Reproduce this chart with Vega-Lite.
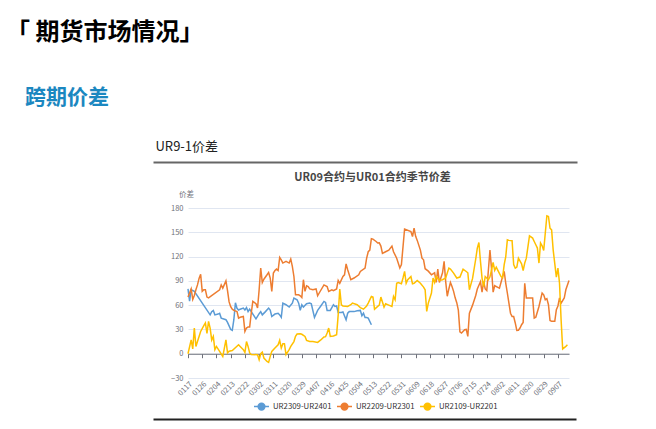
{
  "$schema": "https://vega.github.io/schema/vega-lite/v6.json",
  "autosize": {"type": "none"},
  "width": 381,
  "height": 170,
  "padding": {"left": 188, "top": 208, "right": 87, "bottom": 51},
  "background": "white",
  "config": {"font": "Noto Sans CJK SC", "view": {"stroke": null}},
  "title": {
    "text": "「 期货市场情况」",
    "subtitle": "\u200b\u00a0\u00a0\u00a0\u00a0跨期价差",
    "anchor": "start",
    "frame": "group",
    "dx": -182,
    "offset": 32,
    "fontSize": 24,
    "fontWeight": "bold",
    "color": "#000000",
    "subtitleFontSize": 21,
    "subtitleFontWeight": "bold",
    "subtitleColor": "#1B87C0",
    "subtitlePadding": 42
  },
  "data": {
    "values": [
      {"s":"UR2309-UR2401","d":"2020-01-17","v":80},{"s":"UR2309-UR2401","d":"2020-01-18","v":65},{"s":"UR2309-UR2401","d":"2020-01-19","v":79},{"s":"UR2309-UR2401","d":"2020-01-21","v":77},{"s":"UR2309-UR2401","d":"2020-01-31","v":48},{"s":"UR2309-UR2401","d":"2020-02-01","v":52},{"s":"UR2309-UR2401","d":"2020-02-02","v":53.5},{"s":"UR2309-UR2401","d":"2020-02-03","v":48},{"s":"UR2309-UR2401","d":"2020-02-05","v":49},{"s":"UR2309-UR2401","d":"2020-02-06","v":50},{"s":"UR2309-UR2401","d":"2020-02-07","v":44},{"s":"UR2309-UR2401","d":"2020-02-10","v":42},{"s":"UR2309-UR2401","d":"2020-02-11","v":38.6},{"s":"UR2309-UR2401","d":"2020-02-13","v":30},{"s":"UR2309-UR2401","d":"2020-02-14","v":29},{"s":"UR2309-UR2401","d":"2020-02-15","v":42},{"s":"UR2309-UR2401","d":"2020-02-16","v":63},{"s":"UR2309-UR2401","d":"2020-02-17","v":56},{"s":"UR2309-UR2401","d":"2020-02-18","v":54},{"s":"UR2309-UR2401","d":"2020-02-19","v":55},{"s":"UR2309-UR2401","d":"2020-02-21","v":56.4},{"s":"UR2309-UR2401","d":"2020-02-22","v":54},{"s":"UR2309-UR2401","d":"2020-02-23","v":57},{"s":"UR2309-UR2401","d":"2020-02-24","v":52},{"s":"UR2309-UR2401","d":"2020-02-25","v":55},{"s":"UR2309-UR2401","d":"2020-02-26","v":52},{"s":"UR2309-UR2401","d":"2020-02-29","v":43},{"s":"UR2309-UR2401","d":"2020-03-02","v":49.4},{"s":"UR2309-UR2401","d":"2020-03-03","v":52},{"s":"UR2309-UR2401","d":"2020-03-04","v":48},{"s":"UR2309-UR2401","d":"2020-03-06","v":52},{"s":"UR2309-UR2401","d":"2020-03-08","v":56.4},{"s":"UR2309-UR2401","d":"2020-03-09","v":54},{"s":"UR2309-UR2401","d":"2020-03-10","v":46},{"s":"UR2309-UR2401","d":"2020-03-12","v":49},{"s":"UR2309-UR2401","d":"2020-03-14","v":50},{"s":"UR2309-UR2401","d":"2020-03-15","v":48},{"s":"UR2309-UR2401","d":"2020-03-16","v":45},{"s":"UR2309-UR2401","d":"2020-03-17","v":62.5},{"s":"UR2309-UR2401","d":"2020-03-19","v":60.5},{"s":"UR2309-UR2401","d":"2020-03-21","v":57.6},{"s":"UR2309-UR2401","d":"2020-03-23","v":62.5},{"s":"UR2309-UR2401","d":"2020-03-24","v":68.8},{"s":"UR2309-UR2401","d":"2020-03-26","v":66.7},{"s":"UR2309-UR2401","d":"2020-03-27","v":62.5},{"s":"UR2309-UR2401","d":"2020-03-28","v":53.5},{"s":"UR2309-UR2401","d":"2020-03-29","v":60.5},{"s":"UR2309-UR2401","d":"2020-03-30","v":57.6},{"s":"UR2309-UR2401","d":"2020-04-01","v":61.7},{"s":"UR2309-UR2401","d":"2020-04-03","v":62.5},{"s":"UR2309-UR2401","d":"2020-04-04","v":61.7},{"s":"UR2309-UR2401","d":"2020-04-06","v":44.8},{"s":"UR2309-UR2401","d":"2020-04-08","v":53.5},{"s":"UR2309-UR2401","d":"2020-04-10","v":59},{"s":"UR2309-UR2401","d":"2020-04-12","v":64.6},{"s":"UR2309-UR2401","d":"2020-04-13","v":63.4},{"s":"UR2309-UR2401","d":"2020-04-14","v":53.5},{"s":"UR2309-UR2401","d":"2020-04-16","v":53.5},{"s":"UR2309-UR2401","d":"2020-04-18","v":60.5},{"s":"UR2309-UR2401","d":"2020-04-19","v":58.4},{"s":"UR2309-UR2401","d":"2020-04-20","v":59},{"s":"UR2309-UR2401","d":"2020-04-21","v":51},{"s":"UR2309-UR2401","d":"2020-04-23","v":51},{"s":"UR2309-UR2401","d":"2020-04-24","v":51.6},{"s":"UR2309-UR2401","d":"2020-04-26","v":42},{"s":"UR2309-UR2401","d":"2020-04-27","v":50},{"s":"UR2309-UR2401","d":"2020-04-28","v":52},{"s":"UR2309-UR2401","d":"2020-05-01","v":52},{"s":"UR2309-UR2401","d":"2020-05-03","v":53},{"s":"UR2309-UR2401","d":"2020-05-05","v":53.5},{"s":"UR2309-UR2401","d":"2020-05-06","v":47},{"s":"UR2309-UR2401","d":"2020-05-07","v":50},{"s":"UR2309-UR2401","d":"2020-05-08","v":44.8},{"s":"UR2309-UR2401","d":"2020-05-09","v":44.8},{"s":"UR2309-UR2401","d":"2020-05-10","v":44},{"s":"UR2309-UR2401","d":"2020-05-12","v":35.8},
      {"s":"UR2209-UR2301","d":"2020-01-17","v":70},{"s":"UR2209-UR2301","d":"2020-01-19","v":80},{"s":"UR2209-UR2301","d":"2020-01-20","v":67},{"s":"UR2209-UR2301","d":"2020-01-21","v":72},{"s":"UR2209-UR2301","d":"2020-01-22","v":79},{"s":"UR2209-UR2301","d":"2020-01-23","v":85},{"s":"UR2209-UR2301","d":"2020-01-24","v":93},{"s":"UR2209-UR2301","d":"2020-01-25","v":98},{"s":"UR2209-UR2301","d":"2020-01-26","v":77},{"s":"UR2209-UR2301","d":"2020-01-27","v":79},{"s":"UR2209-UR2301","d":"2020-01-28","v":79},{"s":"UR2209-UR2301","d":"2020-01-29","v":70},{"s":"UR2209-UR2301","d":"2020-01-30","v":69},{"s":"UR2209-UR2301","d":"2020-02-06","v":79},{"s":"UR2209-UR2301","d":"2020-02-07","v":85},{"s":"UR2209-UR2301","d":"2020-02-08","v":81},{"s":"UR2209-UR2301","d":"2020-02-10","v":90},{"s":"UR2209-UR2301","d":"2020-02-11","v":78},{"s":"UR2209-UR2301","d":"2020-02-12","v":64},{"s":"UR2209-UR2301","d":"2020-02-13","v":58},{"s":"UR2209-UR2301","d":"2020-02-14","v":55},{"s":"UR2209-UR2301","d":"2020-02-15","v":53.5},{"s":"UR2209-UR2301","d":"2020-02-17","v":52},{"s":"UR2209-UR2301","d":"2020-02-18","v":44},{"s":"UR2209-UR2301","d":"2020-02-19","v":45},{"s":"UR2209-UR2301","d":"2020-02-21","v":46},{"s":"UR2209-UR2301","d":"2020-02-22","v":27.5},{"s":"UR2209-UR2301","d":"2020-02-23","v":31.7},{"s":"UR2209-UR2301","d":"2020-02-24","v":33},{"s":"UR2209-UR2301","d":"2020-02-25","v":33},{"s":"UR2209-UR2301","d":"2020-02-26","v":50},{"s":"UR2209-UR2301","d":"2020-02-27","v":64.6},{"s":"UR2209-UR2301","d":"2020-02-29","v":61.7},{"s":"UR2209-UR2301","d":"2020-03-01","v":56.4},{"s":"UR2209-UR2301","d":"2020-03-02","v":79},{"s":"UR2209-UR2301","d":"2020-03-03","v":105.8},{"s":"UR2209-UR2301","d":"2020-03-04","v":88},{"s":"UR2209-UR2301","d":"2020-03-05","v":92},{"s":"UR2209-UR2301","d":"2020-03-07","v":97.5},{"s":"UR2209-UR2301","d":"2020-03-08","v":100.4},{"s":"UR2209-UR2301","d":"2020-03-09","v":93.5},{"s":"UR2209-UR2301","d":"2020-03-10","v":77},{"s":"UR2209-UR2301","d":"2020-03-11","v":99.6},{"s":"UR2209-UR2301","d":"2020-03-12","v":102.8},{"s":"UR2209-UR2301","d":"2020-03-13","v":104.5},{"s":"UR2209-UR2301","d":"2020-03-14","v":102.8},{"s":"UR2209-UR2301","d":"2020-03-15","v":119},{"s":"UR2209-UR2301","d":"2020-03-16","v":116},{"s":"UR2209-UR2301","d":"2020-03-17","v":112},{"s":"UR2209-UR2301","d":"2020-03-19","v":114},{"s":"UR2209-UR2301","d":"2020-03-21","v":112},{"s":"UR2209-UR2301","d":"2020-03-22","v":117},{"s":"UR2209-UR2301","d":"2020-03-23","v":107.8},{"s":"UR2209-UR2301","d":"2020-03-24","v":95.4},{"s":"UR2209-UR2301","d":"2020-03-25","v":72.8},{"s":"UR2209-UR2301","d":"2020-03-27","v":72.8},{"s":"UR2209-UR2301","d":"2020-03-28","v":71.6},{"s":"UR2209-UR2301","d":"2020-03-29","v":69.5},{"s":"UR2209-UR2301","d":"2020-03-30","v":91.4},{"s":"UR2209-UR2301","d":"2020-03-31","v":77},{"s":"UR2209-UR2301","d":"2020-04-01","v":84},{"s":"UR2209-UR2301","d":"2020-04-02","v":83},{"s":"UR2209-UR2301","d":"2020-04-03","v":80},{"s":"UR2209-UR2301","d":"2020-04-05","v":79},{"s":"UR2209-UR2301","d":"2020-04-07","v":80},{"s":"UR2209-UR2301","d":"2020-04-08","v":71.6},{"s":"UR2209-UR2301","d":"2020-04-09","v":75},{"s":"UR2209-UR2301","d":"2020-04-12","v":85},{"s":"UR2209-UR2301","d":"2020-04-14","v":83},{"s":"UR2209-UR2301","d":"2020-04-15","v":77},{"s":"UR2209-UR2301","d":"2020-04-17","v":79},{"s":"UR2209-UR2301","d":"2020-04-18","v":78},{"s":"UR2209-UR2301","d":"2020-04-20","v":80},{"s":"UR2209-UR2301","d":"2020-04-21","v":90.5},{"s":"UR2209-UR2301","d":"2020-04-22","v":87},{"s":"UR2209-UR2301","d":"2020-04-24","v":95.4},{"s":"UR2209-UR2301","d":"2020-04-25","v":97.5},{"s":"UR2209-UR2301","d":"2020-04-26","v":111},{"s":"UR2209-UR2301","d":"2020-04-27","v":103.7},{"s":"UR2209-UR2301","d":"2020-04-29","v":91.4},{"s":"UR2209-UR2301","d":"2020-05-01","v":93.5},{"s":"UR2209-UR2301","d":"2020-05-04","v":97.5},{"s":"UR2209-UR2301","d":"2020-05-05","v":101.6},{"s":"UR2209-UR2301","d":"2020-05-08","v":105.8},{"s":"UR2209-UR2301","d":"2020-05-09","v":118},{"s":"UR2209-UR2301","d":"2020-05-10","v":126},{"s":"UR2209-UR2301","d":"2020-05-11","v":128},{"s":"UR2209-UR2301","d":"2020-05-12","v":142},{"s":"UR2209-UR2301","d":"2020-05-13","v":141.6},{"s":"UR2209-UR2301","d":"2020-05-15","v":138.6},{"s":"UR2209-UR2301","d":"2020-05-16","v":136.7},{"s":"UR2209-UR2301","d":"2020-05-17","v":137},{"s":"UR2209-UR2301","d":"2020-05-18","v":133},{"s":"UR2209-UR2301","d":"2020-05-19","v":124},{"s":"UR2209-UR2301","d":"2020-05-21","v":126},{"s":"UR2209-UR2301","d":"2020-05-23","v":128},{"s":"UR2209-UR2301","d":"2020-05-25","v":133},{"s":"UR2209-UR2301","d":"2020-05-26","v":126},{"s":"UR2209-UR2301","d":"2020-05-28","v":118},{"s":"UR2209-UR2301","d":"2020-05-30","v":105.8},{"s":"UR2209-UR2301","d":"2020-05-31","v":110},{"s":"UR2209-UR2301","d":"2020-06-02","v":154},{"s":"UR2209-UR2301","d":"2020-06-06","v":151},{"s":"UR2209-UR2301","d":"2020-06-07","v":144.8},{"s":"UR2209-UR2301","d":"2020-06-08","v":155},{"s":"UR2209-UR2301","d":"2020-06-09","v":145},{"s":"UR2209-UR2301","d":"2020-06-10","v":140},{"s":"UR2209-UR2301","d":"2020-06-12","v":128},{"s":"UR2209-UR2301","d":"2020-06-13","v":118},{"s":"UR2209-UR2301","d":"2020-06-14","v":116},{"s":"UR2209-UR2301","d":"2020-06-15","v":105},{"s":"UR2209-UR2301","d":"2020-06-17","v":102},{"s":"UR2209-UR2301","d":"2020-06-19","v":97.5},{"s":"UR2209-UR2301","d":"2020-06-21","v":100},{"s":"UR2209-UR2301","d":"2020-06-22","v":88},{"s":"UR2209-UR2301","d":"2020-06-23","v":104.5},{"s":"UR2209-UR2301","d":"2020-06-24","v":88},{"s":"UR2209-UR2301","d":"2020-06-26","v":100},{"s":"UR2209-UR2301","d":"2020-06-27","v":114},{"s":"UR2209-UR2301","d":"2020-06-28","v":89},{"s":"UR2209-UR2301","d":"2020-06-29","v":71},{"s":"UR2209-UR2301","d":"2020-06-30","v":80},{"s":"UR2209-UR2301","d":"2020-07-01","v":88},{"s":"UR2209-UR2301","d":"2020-07-02","v":83},{"s":"UR2209-UR2301","d":"2020-07-03","v":77},{"s":"UR2209-UR2301","d":"2020-07-04","v":69},{"s":"UR2209-UR2301","d":"2020-07-05","v":63},{"s":"UR2209-UR2301","d":"2020-07-06","v":54},{"s":"UR2209-UR2301","d":"2020-07-07","v":27},{"s":"UR2209-UR2301","d":"2020-07-08","v":25.5},{"s":"UR2209-UR2301","d":"2020-07-10","v":29.6},{"s":"UR2209-UR2301","d":"2020-07-11","v":30},{"s":"UR2209-UR2301","d":"2020-07-12","v":21.4},{"s":"UR2209-UR2301","d":"2020-07-13","v":50},{"s":"UR2209-UR2301","d":"2020-07-15","v":60},{"s":"UR2209-UR2301","d":"2020-07-17","v":72},{"s":"UR2209-UR2301","d":"2020-07-18","v":80},{"s":"UR2209-UR2301","d":"2020-07-20","v":89},{"s":"UR2209-UR2301","d":"2020-07-21","v":76},{"s":"UR2209-UR2301","d":"2020-07-22","v":89},{"s":"UR2209-UR2301","d":"2020-07-23","v":80},{"s":"UR2209-UR2301","d":"2020-07-24","v":78},{"s":"UR2209-UR2301","d":"2020-07-26","v":128},{"s":"UR2209-UR2301","d":"2020-07-27","v":105},{"s":"UR2209-UR2301","d":"2020-07-28","v":76},{"s":"UR2209-UR2301","d":"2020-07-29","v":84},{"s":"UR2209-UR2301","d":"2020-07-31","v":82},{"s":"UR2209-UR2301","d":"2020-08-01","v":81},{"s":"UR2209-UR2301","d":"2020-08-03","v":95.4},{"s":"UR2209-UR2301","d":"2020-08-04","v":101.6},{"s":"UR2209-UR2301","d":"2020-08-05","v":87},{"s":"UR2209-UR2301","d":"2020-08-06","v":75},{"s":"UR2209-UR2301","d":"2020-08-07","v":62.5},{"s":"UR2209-UR2301","d":"2020-08-08","v":50},{"s":"UR2209-UR2301","d":"2020-08-09","v":46},{"s":"UR2209-UR2301","d":"2020-08-10","v":46},{"s":"UR2209-UR2301","d":"2020-08-11","v":38},{"s":"UR2209-UR2301","d":"2020-08-12","v":28.8},{"s":"UR2209-UR2301","d":"2020-08-13","v":29},{"s":"UR2209-UR2301","d":"2020-08-14","v":31.7},{"s":"UR2209-UR2301","d":"2020-08-15","v":35.8},{"s":"UR2209-UR2301","d":"2020-08-16","v":38.6},{"s":"UR2209-UR2301","d":"2020-08-17","v":87},{"s":"UR2209-UR2301","d":"2020-08-18","v":68.8},{"s":"UR2209-UR2301","d":"2020-08-20","v":68.8},{"s":"UR2209-UR2301","d":"2020-08-22","v":68.8},{"s":"UR2209-UR2301","d":"2020-08-23","v":44},{"s":"UR2209-UR2301","d":"2020-08-24","v":45},{"s":"UR2209-UR2301","d":"2020-08-26","v":58.4},{"s":"UR2209-UR2301","d":"2020-08-27","v":66.7},{"s":"UR2209-UR2301","d":"2020-08-28","v":75},{"s":"UR2209-UR2301","d":"2020-08-29","v":72.8},{"s":"UR2209-UR2301","d":"2020-08-30","v":66.7},{"s":"UR2209-UR2301","d":"2020-08-31","v":68},{"s":"UR2209-UR2301","d":"2020-09-01","v":60.5},{"s":"UR2209-UR2301","d":"2020-09-02","v":41},{"s":"UR2209-UR2301","d":"2020-09-03","v":40},{"s":"UR2209-UR2301","d":"2020-09-05","v":40},{"s":"UR2209-UR2301","d":"2020-09-06","v":54.3},{"s":"UR2209-UR2301","d":"2020-09-07","v":59},{"s":"UR2209-UR2301","d":"2020-09-08","v":68.8},{"s":"UR2209-UR2301","d":"2020-09-09","v":62.5},{"s":"UR2209-UR2301","d":"2020-09-11","v":68.8},{"s":"UR2209-UR2301","d":"2020-09-12","v":79},{"s":"UR2209-UR2301","d":"2020-09-14","v":90.5},
      {"s":"UR2109-UR2201","d":"2020-01-17","v":0},{"s":"UR2109-UR2201","d":"2020-01-19","v":17},{"s":"UR2109-UR2201","d":"2020-01-20","v":6},{"s":"UR2109-UR2201","d":"2020-01-21","v":31.7},{"s":"UR2109-UR2201","d":"2020-01-22","v":9},{"s":"UR2109-UR2201","d":"2020-01-23","v":15},{"s":"UR2109-UR2201","d":"2020-01-25","v":27.5},{"s":"UR2109-UR2201","d":"2020-01-27","v":34.6},{"s":"UR2109-UR2201","d":"2020-01-28","v":38},{"s":"UR2109-UR2201","d":"2020-01-29","v":25},{"s":"UR2109-UR2201","d":"2020-01-30","v":40},{"s":"UR2109-UR2201","d":"2020-01-31","v":31.7},{"s":"UR2109-UR2201","d":"2020-02-01","v":17},{"s":"UR2109-UR2201","d":"2020-02-02","v":21.4},{"s":"UR2109-UR2201","d":"2020-02-03","v":5},{"s":"UR2109-UR2201","d":"2020-02-04","v":9},{"s":"UR2109-UR2201","d":"2020-02-06","v":3},{"s":"UR2109-UR2201","d":"2020-02-08","v":-3.3},{"s":"UR2109-UR2201","d":"2020-02-09","v":7},{"s":"UR2109-UR2201","d":"2020-02-10","v":17},{"s":"UR2109-UR2201","d":"2020-02-11","v":1},{"s":"UR2109-UR2201","d":"2020-02-12","v":3},{"s":"UR2109-UR2201","d":"2020-02-14","v":4},{"s":"UR2109-UR2201","d":"2020-02-18","v":11},{"s":"UR2109-UR2201","d":"2020-02-19","v":9},{"s":"UR2109-UR2201","d":"2020-02-21","v":5},{"s":"UR2109-UR2201","d":"2020-02-22","v":1.6},{"s":"UR2109-UR2201","d":"2020-02-23","v":15},{"s":"UR2109-UR2201","d":"2020-02-24","v":9},{"s":"UR2109-UR2201","d":"2020-02-25","v":1},{"s":"UR2109-UR2201","d":"2020-02-26","v":-1},{"s":"UR2109-UR2201","d":"2020-03-01","v":-1.2},{"s":"UR2109-UR2201","d":"2020-03-02","v":-7.4},{"s":"UR2109-UR2201","d":"2020-03-03","v":0},{"s":"UR2109-UR2201","d":"2020-03-04","v":2},{"s":"UR2109-UR2201","d":"2020-03-05","v":-5.3},{"s":"UR2109-UR2201","d":"2020-03-07","v":-9.5},{"s":"UR2109-UR2201","d":"2020-03-08","v":-10.7},{"s":"UR2109-UR2201","d":"2020-03-09","v":-3.3},{"s":"UR2109-UR2201","d":"2020-03-10","v":2.9},{"s":"UR2109-UR2201","d":"2020-03-12","v":7},{"s":"UR2109-UR2201","d":"2020-03-14","v":11},{"s":"UR2109-UR2201","d":"2020-03-15","v":16.5},{"s":"UR2109-UR2201","d":"2020-03-16","v":7},{"s":"UR2109-UR2201","d":"2020-03-17","v":12.3},{"s":"UR2109-UR2201","d":"2020-03-18","v":12.3},{"s":"UR2109-UR2201","d":"2020-03-19","v":-1.2},{"s":"UR2109-UR2201","d":"2020-03-21","v":5},{"s":"UR2109-UR2201","d":"2020-03-22","v":9},{"s":"UR2109-UR2201","d":"2020-03-24","v":15},{"s":"UR2109-UR2201","d":"2020-03-25","v":21.4},{"s":"UR2109-UR2201","d":"2020-03-26","v":24.3},{"s":"UR2109-UR2201","d":"2020-03-28","v":24.7},{"s":"UR2109-UR2201","d":"2020-03-29","v":24},{"s":"UR2109-UR2201","d":"2020-03-31","v":21.4},{"s":"UR2109-UR2201","d":"2020-04-01","v":16.5},{"s":"UR2109-UR2201","d":"2020-04-03","v":15},{"s":"UR2109-UR2201","d":"2020-04-05","v":15},{"s":"UR2109-UR2201","d":"2020-04-08","v":14},{"s":"UR2109-UR2201","d":"2020-04-10","v":17},{"s":"UR2109-UR2201","d":"2020-04-12","v":20.6},{"s":"UR2109-UR2201","d":"2020-04-13","v":21},{"s":"UR2109-UR2201","d":"2020-04-14","v":25.5},{"s":"UR2109-UR2201","d":"2020-04-15","v":31.7},{"s":"UR2109-UR2201","d":"2020-04-16","v":21.4},{"s":"UR2109-UR2201","d":"2020-04-18","v":22},{"s":"UR2109-UR2201","d":"2020-04-20","v":23.5},{"s":"UR2109-UR2201","d":"2020-04-21","v":48},{"s":"UR2109-UR2201","d":"2020-04-22","v":80},{"s":"UR2109-UR2201","d":"2020-04-23","v":60.5},{"s":"UR2109-UR2201","d":"2020-04-24","v":59},{"s":"UR2109-UR2201","d":"2020-04-27","v":58.4},{"s":"UR2109-UR2201","d":"2020-04-29","v":60.5},{"s":"UR2109-UR2201","d":"2020-04-30","v":62.5},{"s":"UR2109-UR2201","d":"2020-05-03","v":60.5},{"s":"UR2109-UR2201","d":"2020-05-05","v":57},{"s":"UR2109-UR2201","d":"2020-05-07","v":55},{"s":"UR2109-UR2201","d":"2020-05-09","v":59},{"s":"UR2109-UR2201","d":"2020-05-10","v":62.5},{"s":"UR2109-UR2201","d":"2020-05-12","v":70.8},{"s":"UR2109-UR2201","d":"2020-05-13","v":70},{"s":"UR2109-UR2201","d":"2020-05-14","v":55},{"s":"UR2109-UR2201","d":"2020-05-16","v":58.5},{"s":"UR2109-UR2201","d":"2020-05-17","v":60},{"s":"UR2109-UR2201","d":"2020-05-18","v":70},{"s":"UR2109-UR2201","d":"2020-05-20","v":57.6},{"s":"UR2109-UR2201","d":"2020-05-21","v":61.7},{"s":"UR2109-UR2201","d":"2020-05-23","v":60},{"s":"UR2109-UR2201","d":"2020-05-25","v":58.4},{"s":"UR2109-UR2201","d":"2020-05-26","v":70.8},{"s":"UR2109-UR2201","d":"2020-05-27","v":66.7},{"s":"UR2109-UR2201","d":"2020-05-28","v":87},{"s":"UR2109-UR2201","d":"2020-05-29","v":88},{"s":"UR2109-UR2201","d":"2020-05-31","v":86.4},{"s":"UR2109-UR2201","d":"2020-06-01","v":93.5},{"s":"UR2109-UR2201","d":"2020-06-02","v":101.6},{"s":"UR2109-UR2201","d":"2020-06-03","v":87},{"s":"UR2109-UR2201","d":"2020-06-04","v":91.4},{"s":"UR2109-UR2201","d":"2020-06-06","v":95.4},{"s":"UR2109-UR2201","d":"2020-06-07","v":86.4},{"s":"UR2109-UR2201","d":"2020-06-08","v":87},{"s":"UR2109-UR2201","d":"2020-06-10","v":90.5},{"s":"UR2109-UR2201","d":"2020-06-12","v":87},{"s":"UR2109-UR2201","d":"2020-06-14","v":82.3},{"s":"UR2109-UR2201","d":"2020-06-15","v":79},{"s":"UR2109-UR2201","d":"2020-06-16","v":52.2},{"s":"UR2109-UR2201","d":"2020-06-17","v":62.5},{"s":"UR2109-UR2201","d":"2020-06-19","v":75},{"s":"UR2109-UR2201","d":"2020-06-20","v":93.5},{"s":"UR2109-UR2201","d":"2020-06-21","v":88},{"s":"UR2109-UR2201","d":"2020-06-22","v":95.4},{"s":"UR2109-UR2201","d":"2020-06-24","v":90.5},{"s":"UR2109-UR2201","d":"2020-06-26","v":91.4},{"s":"UR2109-UR2201","d":"2020-06-28","v":93.5},{"s":"UR2109-UR2201","d":"2020-06-30","v":105.8},{"s":"UR2109-UR2201","d":"2020-07-01","v":104.5},{"s":"UR2109-UR2201","d":"2020-07-03","v":99.6},{"s":"UR2109-UR2201","d":"2020-07-05","v":93.5},{"s":"UR2109-UR2201","d":"2020-07-07","v":94.7},{"s":"UR2109-UR2201","d":"2020-07-09","v":104.5},{"s":"UR2109-UR2201","d":"2020-07-11","v":101.6},{"s":"UR2109-UR2201","d":"2020-07-12","v":100},{"s":"UR2109-UR2201","d":"2020-07-13","v":79},{"s":"UR2109-UR2201","d":"2020-07-15","v":93},{"s":"UR2109-UR2201","d":"2020-07-17","v":117},{"s":"UR2109-UR2201","d":"2020-07-18","v":130.5},{"s":"UR2109-UR2201","d":"2020-07-19","v":137.4},{"s":"UR2109-UR2201","d":"2020-07-20","v":114},{"s":"UR2109-UR2201","d":"2020-07-21","v":93.5},{"s":"UR2109-UR2201","d":"2020-07-22","v":83},{"s":"UR2109-UR2201","d":"2020-07-23","v":95.4},{"s":"UR2109-UR2201","d":"2020-07-25","v":91.4},{"s":"UR2109-UR2201","d":"2020-07-26","v":95},{"s":"UR2109-UR2201","d":"2020-07-27","v":103.7},{"s":"UR2109-UR2201","d":"2020-07-28","v":112.7},{"s":"UR2109-UR2201","d":"2020-07-29","v":103},{"s":"UR2109-UR2201","d":"2020-07-30","v":107},{"s":"UR2109-UR2201","d":"2020-07-31","v":103},{"s":"UR2109-UR2201","d":"2020-08-02","v":95.4},{"s":"UR2109-UR2201","d":"2020-08-03","v":94},{"s":"UR2109-UR2201","d":"2020-08-04","v":110},{"s":"UR2109-UR2201","d":"2020-08-05","v":120},{"s":"UR2109-UR2201","d":"2020-08-06","v":140.7},{"s":"UR2109-UR2201","d":"2020-08-07","v":140},{"s":"UR2109-UR2201","d":"2020-08-09","v":139.5},{"s":"UR2109-UR2201","d":"2020-08-10","v":110},{"s":"UR2109-UR2201","d":"2020-08-11","v":105.8},{"s":"UR2109-UR2201","d":"2020-08-12","v":107},{"s":"UR2109-UR2201","d":"2020-08-13","v":118},{"s":"UR2109-UR2201","d":"2020-08-15","v":111},{"s":"UR2109-UR2201","d":"2020-08-16","v":102.8},{"s":"UR2109-UR2201","d":"2020-08-17","v":112},{"s":"UR2109-UR2201","d":"2020-08-18","v":118},{"s":"UR2109-UR2201","d":"2020-08-20","v":145.6},{"s":"UR2109-UR2201","d":"2020-08-22","v":142.8},{"s":"UR2109-UR2201","d":"2020-08-23","v":138.6},{"s":"UR2109-UR2201","d":"2020-08-24","v":134.6},{"s":"UR2109-UR2201","d":"2020-08-25","v":130.5},{"s":"UR2109-UR2201","d":"2020-08-26","v":112},{"s":"UR2109-UR2201","d":"2020-08-27","v":136.7},{"s":"UR2109-UR2201","d":"2020-08-28","v":133.3},{"s":"UR2109-UR2201","d":"2020-08-29","v":127.6},{"s":"UR2109-UR2201","d":"2020-08-31","v":170.4},{"s":"UR2109-UR2201","d":"2020-09-01","v":169.5},{"s":"UR2109-UR2201","d":"2020-09-02","v":155},{"s":"UR2109-UR2201","d":"2020-09-03","v":153},{"s":"UR2109-UR2201","d":"2020-09-04","v":128},{"s":"UR2109-UR2201","d":"2020-09-06","v":94.7},{"s":"UR2109-UR2201","d":"2020-09-07","v":105.8},{"s":"UR2109-UR2201","d":"2020-09-08","v":87},{"s":"UR2109-UR2201","d":"2020-09-09","v":42},{"s":"UR2109-UR2201","d":"2020-09-10","v":5.8},{"s":"UR2109-UR2201","d":"2020-09-12","v":9},{"s":"UR2109-UR2201","d":"2020-09-13","v":11}
    ]
  },
  "layer": [
    {
      "mark": {"type": "line", "strokeWidth": 1.5},
      "encoding": {
        "x": {
          "field": "d", "type": "temporal",
          "scale": {"type": "utc", "nice": false, "domain": [{"year":2020,"month":1,"date":17,"utc":true},{"year":2020,"month":9,"date":14,"utc":true}]},
          "axis": {
            "orient": "bottom", "offset": -24.29,
            "values": [{"year":2020,"month":1,"date":17,"utc":true},{"year":2020,"month":1,"date":26,"utc":true},{"year":2020,"month":2,"date":4,"utc":true},{"year":2020,"month":2,"date":13,"utc":true},{"year":2020,"month":2,"date":22,"utc":true},{"year":2020,"month":3,"date":2,"utc":true},{"year":2020,"month":3,"date":11,"utc":true},{"year":2020,"month":3,"date":20,"utc":true},{"year":2020,"month":3,"date":29,"utc":true},{"year":2020,"month":4,"date":7,"utc":true},{"year":2020,"month":4,"date":16,"utc":true},{"year":2020,"month":4,"date":25,"utc":true},{"year":2020,"month":5,"date":4,"utc":true},{"year":2020,"month":5,"date":13,"utc":true},{"year":2020,"month":5,"date":22,"utc":true},{"year":2020,"month":5,"date":31,"utc":true},{"year":2020,"month":6,"date":9,"utc":true},{"year":2020,"month":6,"date":18,"utc":true},{"year":2020,"month":6,"date":27,"utc":true},{"year":2020,"month":7,"date":6,"utc":true},{"year":2020,"month":7,"date":15,"utc":true},{"year":2020,"month":7,"date":24,"utc":true},{"year":2020,"month":8,"date":2,"utc":true},{"year":2020,"month":8,"date":11,"utc":true},{"year":2020,"month":8,"date":20,"utc":true},{"year":2020,"month":8,"date":29,"utc":true},{"year":2020,"month":9,"date":7,"utc":true}],
            "labelExpr": "utcFormat(datum.value, '%m%d')",
            "labelAngle": -45, "labelFontSize": 7.5, "labelColor": "#6E7079", "labelPadding": 22,
            "labelOverlap": false, "labelFlush": false,
            "tickSize": 4, "tickColor": "#6E7079", "domainColor": "#6E7079", "grid": false,
            "title": "UR09合约与UR01合约季节价差",
            "titleX": 184, "titleY": -176, "titleAlign": "center", "titleBaseline": "middle", "titleAnchor": "middle",
            "titleFontSize": 11, "titleFontWeight": "bold", "titleColor": "#464646"
          }
        },
        "y": {
          "field": "v", "type": "quantitative",
          "scale": {"domain": [-30, 180], "nice": false, "zero": false},
          "axis": {
            "values": [-30, 0, 30, 60, 90, 120, 150, 180],
            "domain": false, "ticks": false, "grid": true, "gridColor": "#E0E6F1",
            "labelColor": "#6E7079", "labelFontSize": 7.5, "labelPadding": 5,
            "title": "价差", "titleAngle": 0, "titleX": -2, "titleY": -14, "titleAlign": "center", "titleBaseline": "middle",
            "titleFontSize": 7.5, "titleFontWeight": "normal", "titleColor": "#6E7079"
          }
        },
        "color": {
          "field": "s", "type": "nominal",
          "scale": {"domain": ["UR2309-UR2401", "UR2209-UR2301", "UR2109-UR2201"], "range": ["#5B9BD5", "#ED7D31", "#FFC000"]},
          "legend": {
            "orient": "none", "legendX": 65, "legendY": 190, "direction": "horizontal", "title": null,
            "symbolType": "M-1,0H1M-0.45,0A0.45,0.45 0 1,1 0.45,0A0.45,0.45 0 1,1 -0.45,0Z",
            "symbolSize": 225, "symbolStrokeWidth": 1.5,
            "labelFontSize": 7.8, "labelColor": "#333333", "columnPadding": 2, "labelOffset": 3,
            "encode": {"symbols": {"update": {"fill": {"scale": "color", "field": "value"}, "opacity": {"value": 1}}}}
          }
        }
      }
    },
    {
      "mark": {"type": "rule", "opacity": 0},
      "encoding": {
        "x": {
          "field": "d", "type": "temporal",
          "scale": {"type": "utc", "nice": false, "domain": [{"year":2020,"month":1,"date":17,"utc":true},{"year":2020,"month":9,"date":14,"utc":true}], "range": [-35, 389]},
          "axis": {
            "orient": "top", "offset": 46, "domainColor": "#666666", "domainWidth": 2,
            "ticks": false, "labels": false, "grid": false,
            "title": "UR9-1价差", "titleX": -33, "titleY": -16, "titleAlign": "left", "titleBaseline": "middle",
            "titleFontSize": 13, "titleFontWeight": "normal", "titleColor": "#222222"
          }
        }
      }
    },
    {
      "mark": {"type": "rule", "opacity": 0},
      "encoding": {
        "x": {
          "field": "d", "type": "temporal",
          "scale": {"type": "utc", "nice": false, "domain": [{"year":2020,"month":1,"date":17,"utc":true},{"year":2020,"month":9,"date":14,"utc":true}], "range": [-35, 388]},
          "axis": {
            "orient": "bottom", "offset": 41, "domainColor": "#222222", "domainWidth": 2,
            "ticks": false, "labels": false, "grid": false, "title": null
          }
        }
      }
    }
  ],
  "resolve": {"scale": {"x": "independent"}, "axis": {"x": "independent"}}
}
